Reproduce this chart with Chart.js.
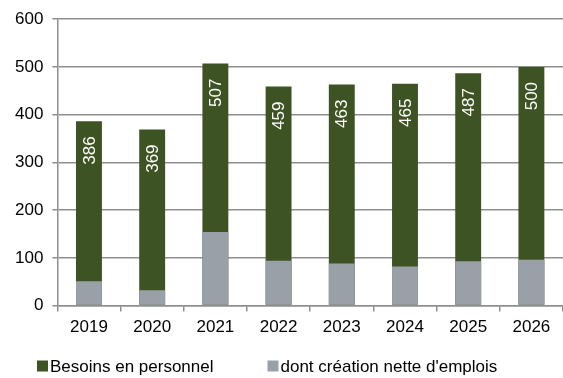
<!DOCTYPE html>
<html>
<head>
<meta charset="utf-8">
<script src="https://cdn.jsdelivr.net/npm/chart.js@4/dist/chart.umd.min.js"></script>
<style>
  html, body { margin: 0; padding: 0; background: #fff; }
  #wrap { width: 563px; height: 378px; }
</style>
</head>
<body>
<div id="wrap"><canvas id="besoinsChart"></canvas></div>
<script>
var years = ['2019', '2020', '2021', '2022', '2023', '2024', '2025', '2026'];
var besoins = [386, 369, 507, 459, 463, 465, 487, 500];
var creationNette = [51, 32, 154, 94, 88, 82, 93, 96];
var yTicks = [0, 100, 200, 300, 400, 500, 600];

var fontFamily = '"Liberation Sans", Arial, sans-serif';
var gridColor = '#8f8f8f';

// white values written upward inside the green bars
var barValues = {
    id: 'barValues',
    afterDatasetsDraw: function(chart) {
        var ctx = chart.ctx;
        var meta = chart.getDatasetMeta(0);
        ctx.save();
        ctx.fillStyle = '#ffffff';
        ctx.font = '17px ' + fontFamily;
        ctx.textAlign = 'right';
        ctx.textBaseline = 'middle';
        meta.data.forEach(function(bar, i) {
            ctx.save();
            ctx.translate(bar.x + 1, bar.y + 15);
            ctx.rotate(-Math.PI / 2);
            ctx.fillText(String(besoins[i]), 0, 0);
            ctx.restore();
        });
        ctx.restore();
    }
};

// legend row under the axis: small square, tight text, wide gap between items
var bottomLegend = {
    id: 'bottomLegend',
    afterDraw: function(chart) {
        var ctx = chart.ctx;
        var x = 37, y = 367, box = 11;
        ctx.save();
        ctx.font = '17px ' + fontFamily;
        ctx.textBaseline = 'middle';
        ctx.textAlign = 'left';
        chart.data.datasets.forEach(function(ds) {
            ctx.fillStyle = ds.backgroundColor;
            ctx.fillRect(x, y - box / 2 - 1, box, box);
            ctx.fillStyle = '#000';
            ctx.fillText(ds.label, x + box + 2, y);
            x += box + 2 + ctx.measureText(ds.label).width + 54;
        });
        ctx.restore();
    }
};

var ctx = document.getElementById('besoinsChart').getContext('2d');
var myChart = new Chart(ctx, {
    type: 'bar',
    data: {
        labels: years,
        datasets: [{
            label: 'Besoins en personnel',
            data: besoins,
            backgroundColor: '#3e5323',
            borderWidth: 0,
            barPercentage: 0.41,
            categoryPercentage: 1,
            order: 1
        }, {
            label: "dont création nette d'emplois",
            data: creationNette,
            backgroundColor: '#99a0a8',
            borderWidth: 0,
            barPercentage: 0.41,
            categoryPercentage: 1,
            order: 0
        }]
    },
    options: {
        responsive: true,
        maintainAspectRatio: false,
        animation: false,
        layout: { padding: { left: 6, right: 0, top: 14, bottom: 34 } },
        plugins: {
            tooltip: { enabled: false },
            legend: { display: false }
        },
        scales: {
            x: {
                stacked: true,
                grid: {
                    display: true,
                    drawOnChartArea: false,
                    drawTicks: true,
                    tickLength: 6,
                    color: gridColor,
                    lineWidth: 1.5,
                    offset: true
                },
                border: { display: true, color: gridColor, width: 1.5 },
                ticks: {
                    font: { family: fontFamily, size: 17 },
                    color: '#000',
                    padding: 6,
                    maxRotation: 0
                }
            },
            y: {
                stacked: false,
                min: 0,
                max: 600,
                afterBuildTicks: function(axis) {
                    axis.ticks = yTicks.map(function(v) { return { value: v }; });
                },
                grid: {
                    color: gridColor,
                    lineWidth: 1.5,
                    tickLength: 5
                },
                border: { display: true, color: gridColor, width: 1.5 },
                ticks: {
                    font: { family: fontFamily, size: 17 },
                    color: '#000',
                    padding: 9
                }
            }
        }
    },
    plugins: [barValues, bottomLegend]
});
</script>
</body>
</html>
